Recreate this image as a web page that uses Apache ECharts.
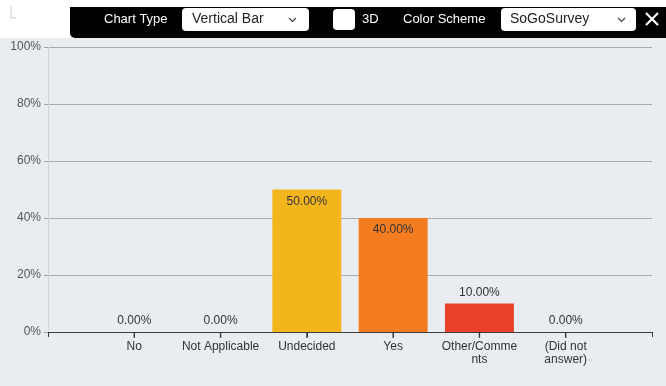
<!DOCTYPE html>
<html>
<head>
<meta charset="utf-8">
<script src="https://cdn.jsdelivr.net/npm/echarts@6/dist/echarts.min.js"></script>
<style>
html,body{margin:0;padding:0;background:#ffffff;}
#chart{width:666px;height:386px;}
</style>
</head>
<body>
<div id="chart"></div>
<script>
// ---- data ----
var categories = ['No', 'Not Applicable', 'Undecided', 'Yes', 'Other/Comments', '(Did not answer)'];
var categoryLabels = ['No', 'Not Applicable', 'Undecided', 'Yes', 'Other/Comme\nnts', '(Did not\nanswer)'];
var percentValues = [0, 0, 50, 40, 10, 0];
var barColors = ['#f2b51c', '#f2b51c', '#f2b51c', '#f57d20', '#e8432a', '#f2b51c'];
var yTicks = [0, 20, 40, 60, 80, 100];

// ---- build ----
var seriesData = percentValues.map(function (v, i) {
  return {
    value: [i + 1, v],
    itemStyle: {color: barColors[i]},
    label: {position: v >= 30 ? 'insideTop' : 'top', distance: v >= 30 ? 6 : 5}
  };
});

var chart = echarts.init(document.getElementById('chart'), null, {renderer: 'canvas'});
var font = 'Liberation Sans, Arial, sans-serif';
chart.setOption({
  backgroundColor: '#e9edf1',
  animation: false,
  textStyle: {fontFamily: font},
  grid: {left: 48, right: 14, top: 47, bottom: 54, containLabel: false},
  xAxis: {
    type: 'value',
    min: 0,
    max: categories.length + 1,
    interval: 1,
    axisLine: {show: true, lineStyle: {color: '#3c3c3c', width: 1}},
    axisTick: {show: true, length: 5, lineStyle: {color: '#3c3c3c', width: 1}},
    axisLabel: {color: '#333333', fontSize: 12, lineHeight: 13, margin: 8, fontFamily: font,
      formatter: function (v) { return categoryLabels[v - 1] || ''; }},
    splitLine: {show: false}
  },
  yAxis: {
    type: 'value',
    min: yTicks[0],
    max: yTicks[yTicks.length - 1],
    interval: 20,
    axisLine: {show: true, lineStyle: {color: '#d2d6da'}},
    axisTick: {show: true, length: 4, lineStyle: {color: '#9ea3a8'}},
    axisLabel: {color: '#555555', fontSize: 12, margin: 7, fontFamily: font,
      formatter: function (v) { return v + '%'; }},
    splitLine: {lineStyle: {color: '#a6abb0', width: 1}}
  },
  series: [{
    type: 'bar',
    data: seriesData,
    barWidth: 69,
    label: {
      show: true,
      color: '#333333',
      fontSize: 12,
      fontFamily: font,
      formatter: function (p) { return p.value[1].toFixed(2) + '%'; }
    }
  }, {
    // tick marks under each category on the axis
    type: 'scatter',
    data: percentValues.map(function (v, i) { return [i + 1, 0]; }),
    symbol: 'rect',
    symbolSize: [1.5, 6],
    symbolOffset: [0, 3],
    itemStyle: {color: '#333333'},
    clip: false,
    silent: true,
    z: 5
  }],
  graphic: [
    {type: 'rect', left: 0, top: 0, shape: {width: 666, height: 38}, style: {fill: '#ffffff'}, z: 10},
    {type: 'polyline', shape: {points: [[11, 6], [11, 18], [16, 18]]}, style: {stroke: '#c8ccd0', lineWidth: 1, fill: null}, z: 11},
    {type: 'rect', left: 70, top: 7, shape: {width: 600, height: 31, r: [0, 0, 0, 5]}, style: {fill: '#000000'}, z: 11},
    {type: 'text', left: 104, top: 13, style: {text: 'Chart Type', fill: '#ffffff', font: '13px ' + font}, z: 12},
    {type: 'rect', left: 182, top: 8, shape: {width: 127, height: 23, r: 4}, style: {fill: '#ffffff'}, z: 12},
    {type: 'text', left: 192, top: 12, style: {text: 'Vertical Bar', fill: '#222222', font: '14px ' + font}, z: 13},
    {type: 'polyline', shape: {points: [[289, 18], [292.5, 21.5], [296, 18]]}, style: {stroke: '#444444', lineWidth: 1.2, fill: null}, z: 13},
    {type: 'rect', left: 333, top: 9, shape: {width: 22, height: 21, r: 4}, style: {fill: '#ffffff'}, z: 12},
    {type: 'text', left: 362, top: 13, style: {text: '3D', fill: '#ffffff', font: '13px ' + font}, z: 12},
    {type: 'text', left: 403, top: 13, style: {text: 'Color Scheme', fill: '#ffffff', font: '13px ' + font}, z: 12},
    {type: 'rect', left: 501, top: 8, shape: {width: 135, height: 23, r: 4}, style: {fill: '#ffffff'}, z: 12},
    {type: 'text', left: 510, top: 12, style: {text: 'SoGoSurvey', fill: '#222222', font: '14px ' + font}, z: 13},
    {type: 'polyline', shape: {points: [[618, 18], [621.5, 21.5], [625, 18]]}, style: {stroke: '#444444', lineWidth: 1.2, fill: null}, z: 13},
    {type: 'polyline', shape: {points: [[646, 13], [658, 25]]}, style: {stroke: '#ffffff', lineWidth: 2.2}, z: 12},
    {type: 'polyline', shape: {points: [[658, 13], [646, 25]]}, style: {stroke: '#ffffff', lineWidth: 2.2}, z: 12}
  ]
});
</script>
</body>
</html>
